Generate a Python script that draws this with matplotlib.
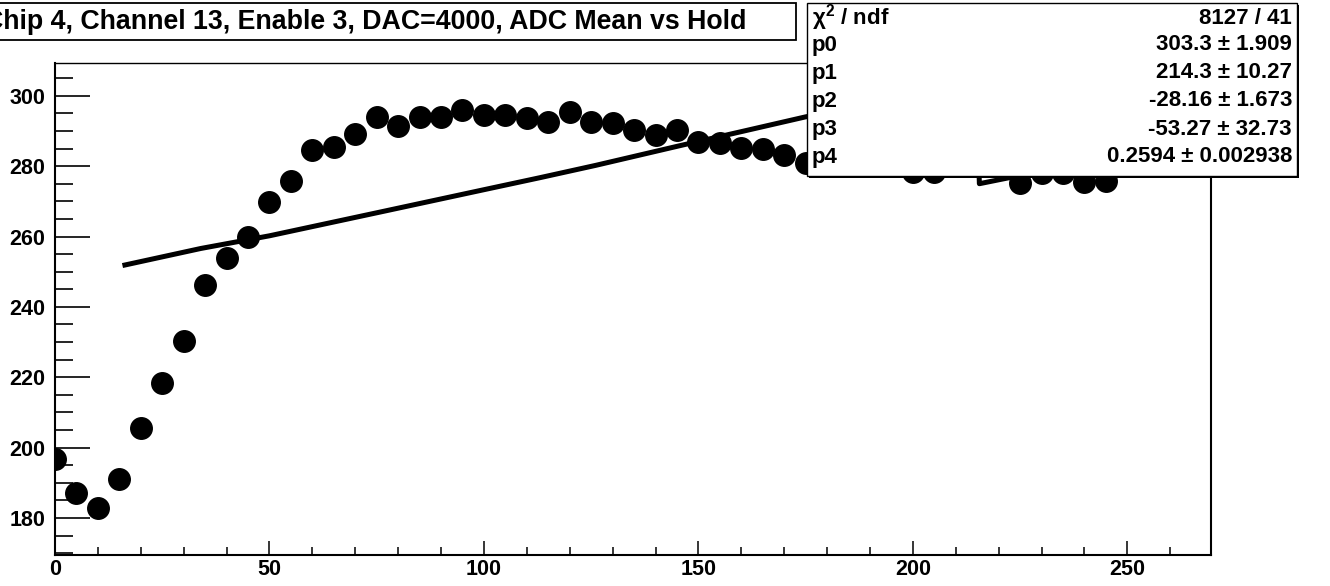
import matplotlib
matplotlib.use("Agg")
import matplotlib.pyplot as plt
from matplotlib.patches import Rectangle
from matplotlib.ticker import MultipleLocator

plt.rcParams['font.family'] = ['Liberation Sans', 'DejaVu Sans']
plt.rcParams['font.weight'] = 'bold'
plt.rcParams['mathtext.fontset'] = 'custom'
plt.rcParams['mathtext.rm'] = 'Liberation Sans:bold'
plt.rcParams['mathtext.it'] = 'Liberation Sans:italic'
plt.rcParams['mathtext.bf'] = 'Liberation Sans:bold'

# data
hold = [0, 5, 10, 15, 20, 25, 30, 35, 40, 45,
        50, 55, 60, 65, 70, 75, 80, 85, 90, 95,
        100, 105, 110, 115, 120, 125, 130, 135, 140, 145,
        150, 155, 160, 165, 170, 175, 180, 185, 190, 195,
        200, 205, 210, 215, 220, 225, 230, 235, 240, 245]
adc_mean = [196.9, 187.2, 182.8, 191.2, 205.7, 218.3, 230.3, 246.2, 253.9, 259.9,
            269.8, 275.8, 284.6, 285.4, 289.0, 293.9, 291.5, 293.9, 294.0, 295.9,
            294.4, 294.4, 293.8, 292.4, 295.5, 292.4, 292.2, 290.3, 288.7, 290.3,
            286.8, 286.5, 285.2, 285.0, 283.2, 280.8, 281.5, 282.0, 281.0, 281.0,
            278.4, 278.4, 281.0, 280.8, 281.0, 275.1, 278.0, 278.0, 275.4, 275.7]

# fitted curve
fit_x = [16.3, 34, 50, 76, 100, 113, 126, 146, 160, 175, 190, 214.9, 215.5, 222, 240, 250]
fit_y = [251.9, 256.6, 260.2, 267.0, 273.3, 276.7, 280.2, 285.9, 289.8, 294.0, 297.5, 299.0,
         275.0, 276.6, 281.0, 283.5]

title = "Chip 4, Channel 13, Enable 3, DAC=4000, ADC Mean vs Hold"
stat_names = ["\u03c7$^{2}$ / ndf", "p0", "p1", "p2", "p3", "p4"]
stat_values = ["8127 / 41", "303.3 \u00b1 1.909", "214.3 \u00b1 10.27",
               "-28.16 \u00b1 1.673", "-53.27 \u00b1 32.73", "0.2594 \u00b1 0.002938"]

W, H = 1330, 586
fig = plt.figure(figsize=(W / 100, H / 100), dpi=100)
ax = fig.add_axes([55 / W, 1 - 555 / H, (1211 - 55) / W, (555 - 63) / H])

ax.plot(hold, adc_mean, 'o', color='black', markersize=15.5, zorder=3)
ax.plot(fit_x, fit_y, '-', color='black', lw=3.6, zorder=2)

ax.set_xlim(0, 269.5)
ax.set_ylim(169.5, 309.3)

ax.xaxis.set_major_locator(MultipleLocator(50))
ax.xaxis.set_minor_locator(MultipleLocator(10))
ax.yaxis.set_major_locator(MultipleLocator(20))
ax.yaxis.set_minor_locator(MultipleLocator(5))
ax.tick_params(axis='x', which='major', direction='in', length=10, width=1.1, pad=3,
               labelsize=15.5, top=False)
ax.tick_params(axis='x', which='minor', direction='in', length=5.5, width=1.1, top=False)
ax.tick_params(axis='y', which='major', direction='in', length=25, width=1.2, pad=7,
               labelsize=15.5, right=False)
ax.tick_params(axis='y', which='minor', direction='in', length=13, width=1.2, right=False)
for lab in ax.get_xticklabels() + ax.get_yticklabels():
    lab.set_fontweight('bold')
for side in ['left', 'bottom', 'right']:
    ax.spines[side].set_linewidth(1.5)
ax.spines['top'].set_linewidth(1.0)

# title box (runs off the left edge like the original)
fig.add_artist(Rectangle((-60 / W, 1 - 40 / H), (796 + 60) / W, 37 / H,
                         transform=fig.transFigure, facecolor='white',
                         edgecolor='black', lw=1.3, zorder=5))
fig.text(746 / W, 1 - 22 / H, title, ha='right', va='center', fontsize=19.3,
         fontweight='bold', zorder=6)

# stats box with shadow
bx0, bx1, by0, by1 = 807, 1297, 3, 176
fig.add_artist(Rectangle((bx0 / W + 2 / W, 1 - (by1 + 2) / H), (bx1 - bx0) / W, (by1 - by0) / H,
                         transform=fig.transFigure, facecolor='black', lw=0, zorder=5))
fig.add_artist(Rectangle((bx0 / W, 1 - by1 / H), (bx1 - bx0) / W, (by1 - by0) / H,
                         transform=fig.transFigure, facecolor='white',
                         edgecolor='black', lw=1.0, zorder=6))
rows_y = [18, 45, 73, 101, 129, 157]
for n, v, yp in zip(stat_names, stat_values, rows_y):
    fig.text(812 / W, 1 - yp / H, n, ha='left', va='center', fontsize=16, fontweight='bold', zorder=7)
    fig.text(1292 / W, 1 - yp / H, v, ha='right', va='center', fontsize=16, fontweight='bold', zorder=7)

fig.savefig("out.png", dpi=100)
